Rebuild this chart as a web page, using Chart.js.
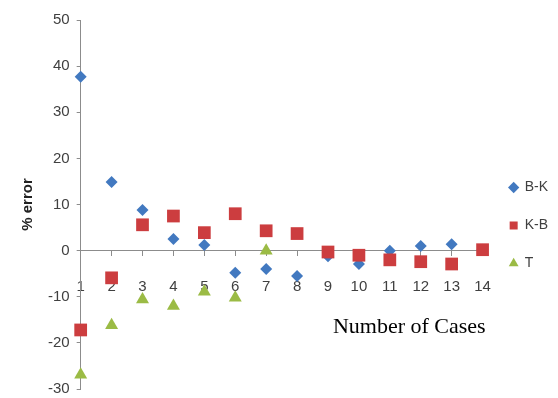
<!DOCTYPE html>
<html>
<head>
<meta charset="utf-8">
<script src="https://cdn.jsdelivr.net/npm/chart.js@4"></script>
<style>
html,body{margin:0;padding:0;background:#fff;}
#wrap{width:558px;height:398px;position:relative;}
</style>
</head>
<body>
<div id="wrap"><canvas id="c"></canvas></div>
<script>
const cases = [1,2,3,4,5,6,7,8,9,10,11,12,13,14];
const bk = [37.7,14.9,8.8,2.5,1.2,-4.8,-4.0,-5.5,-1.2,-2.9,0,1.0,1.4,0.2];
const kb = [-17.2,-5.9,5.6,7.5,3.9,8.0,4.3,3.7,-0.3,-1.0,-2.0,-2.4,-2.9,0.2];
const tt = [-26.9,-16.2,-10.6,-12.0,-8.9,-10.2,0,null,null,null,null,null,null,null];
const yTicks = [-30,-20,-10,0,10,20,30,40,50];

const toPts = arr => cases.map((c,i)=>({x:c,y:arr[i]})).filter(p=>p.y!==null);
const axisGray = '#8c8c8c';
const labelFont = "'Liberation Sans',Arial,sans-serif";

new Chart(document.getElementById('c'), {
  type: 'scatter',
  data: {
    datasets: [
      {label:'B-K', data: toPts(bk), order: 2, pointStyle:'rectRot', pointRadius:6, pointHoverRadius:6, clip:false,
       backgroundColor:'#4279c0', borderColor:'#4279c0', borderWidth:0},
      {label:'K-B', data: toPts(kb), order: 1, pointStyle:'rect', pointRadius:9, pointHoverRadius:9, clip:false,
       backgroundColor:'#cc3d3f', borderColor:'#cc3d3f', borderWidth:0},
      {label:'T', data: toPts(tt), order: 0, pointStyle:'triangle', pointRadius:7.5, pointHoverRadius:7.5, clip:false,
       backgroundColor:'#9bbb45', borderColor:'#9bbb45', borderWidth:0}
    ]
  },
  options: {
    responsive: true,
    maintainAspectRatio: false,
    animation: false,
    layout: {padding: {top: 20, bottom: 4, left: 15, right: 0}},
    scales: {
      x: {
        type: 'linear',
        position: {y: 0},
        min: 1, max: 14.1,
        afterBuildTicks: s => { s.ticks = cases.map(v=>({value:v})); },
        ticks: {color: '#404040', padding: 22,
                font: {family: labelFont, size: 15}},
        grid: {drawOnChartArea: false, tickLength: 5, color: axisGray},
        border: {color: axisGray, width: 1},
        title: {display: true, text: 'Number of Cases', align: 'end', color: '#000',
                font: {family: "'Liberation Serif','Times New Roman',serif", size: 22},
                padding: {top: -4}}
      },
      y: {
        min: -30, max: 50,
        afterBuildTicks: s => { s.ticks = yTicks.map(v=>({value:v})); },
        ticks: {color: '#404040', padding: 7, font: {family: labelFont, size: 15, lineHeight: 0.1}},
        grid: {drawOnChartArea: false, tickLength: 4, color: axisGray},
        border: {color: axisGray, width: 1},
        title: {display: true, text: '% error', color: '#222',
                font: {family: "'Liberation Sans',Arial,sans-serif", size: 15, weight: 'bold'},
                padding: {bottom: 4}}
      }
    },
    plugins: {
      tooltip: {enabled: false},
      legend: {
        position: 'right',
        align: 'center',
        title: {display: true, text: ' ', font: {size: 10}, padding: {top: 12, bottom: 13}},
        labels: {usePointStyle: true, boxWidth: 8, boxHeight: 8, padding: 24, color: '#404040',
                 font: {family: labelFont, size: 14},
                 sort: (a, b) => a.datasetIndex - b.datasetIndex}
      }
    }
  }
});
</script>
</body>
</html>
